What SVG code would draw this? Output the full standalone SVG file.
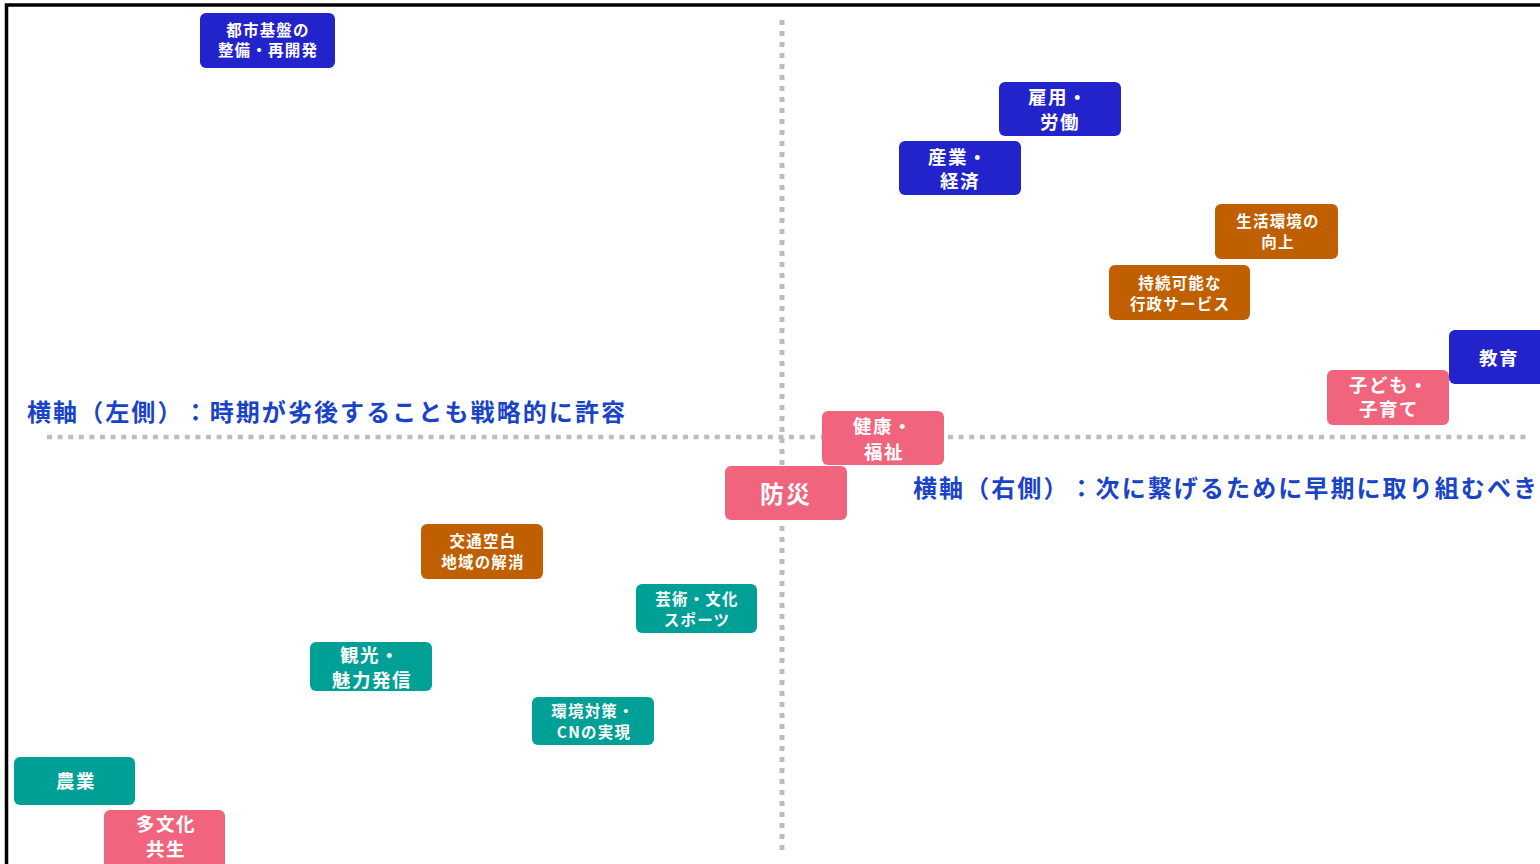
<svg xmlns="http://www.w3.org/2000/svg" width="1540" height="864" viewBox="0 0 1540 864">
<style>
.n rect{rx:6px;ry:6px}
.b rect{fill:#2323CC}
.o rect{fill:#C05F00}
.p rect{fill:#F0657D}
.t rect{fill:#00A096}
.n text{fill:#ffffff;font-family:"Noto Sans CJK JP","Noto Sans",sans-serif;font-weight:700;text-anchor:middle;dominant-baseline:central;text-spacing-trim:space-all}
.s16 text{font-size:15.5px;letter-spacing:1.2px}
.s19 text{font-size:18.5px;letter-spacing:1.5px}
.axis{fill:#1A44C8;font-family:"Noto Sans CJK JP","Noto Sans",sans-serif;font-weight:700;font-size:24px;letter-spacing:2px;text-spacing-trim:space-all}
.dot{stroke:#BDBDBD;fill:none}
</style>
<rect x="0" y="0" width="1540" height="864" fill="#ffffff"/>
<path d="M6.5,864 V5 H1540" fill="none" stroke="#000000" stroke-width="3.5"/>
<g id="connectors">
<line class="dot" x1="782" y1="20" x2="782" y2="854" stroke-width="5" stroke-dasharray="5 6"/>
<line class="dot" x1="47" y1="437" x2="1527" y2="437" stroke-width="4.5" stroke-dasharray="5 5.6"/>
</g>
<g id="labels">
<text class="axis" x="27" y="421" textLength="600" lengthAdjust="spacing">横軸（左側）：時期が劣後することも戦略的に許容</text>
<text class="axis" x="913" y="497" textLength="626" lengthAdjust="spacing">横軸（右側）：次に繋げるために早期に取り組むべき</text>
</g>
<g id="n1" class="n b s16"><rect x="200" y="13" width="135" height="55"/><text x="268" y="29">都市基盤の</text><text x="268" y="49">整備・再開発</text></g>
<g id="n2" class="n b s19"><rect x="999" y="82" width="122" height="54"/><text x="1058" y="96">雇用・</text><text x="1060" y="121">労働</text></g>
<g id="n3" class="n b s19"><rect x="899" y="141" width="122" height="54"/><text x="958" y="156">産業・</text><text x="960" y="180">経済</text></g>
<g id="n4" class="n o s16"><rect x="1215" y="204" width="123" height="55"/><text x="1278" y="220">生活環境の</text><text x="1278" y="241">向上</text></g>
<g id="n5" class="n o s16"><rect x="1109" y="265" width="141" height="55"/><text x="1180" y="282">持続可能な</text><text x="1180" y="303">行政サービス</text></g>
<g id="n6" class="n b s19"><rect x="1449" y="330" width="100" height="54"/><text x="1499" y="357">教育</text></g>
<g id="n7" class="n p s19"><rect x="1327" y="370" width="122" height="55"/><text x="1389" y="384">子ども・</text><text x="1389" y="408">子育て</text></g>
<g id="n8" class="n p s19"><rect x="822" y="411" width="122" height="54"/><text x="883" y="425">健康・</text><text x="884" y="451">福祉</text></g>
<g id="n9" class="n p"><rect x="725" y="466" width="122" height="54"/><text x="786" y="492" style="font-size:24px;letter-spacing:2px">防災</text></g>
<g id="n10" class="n o s16"><rect x="421" y="524" width="122" height="55"/><text x="483" y="540">交通空白</text><text x="483" y="561">地域の解消</text></g>
<g id="n11" class="n t s16"><rect x="636" y="584" width="121" height="49"/><text x="697" y="598">芸術・文化</text><text x="697" y="619">スポーツ</text></g>
<g id="n12" class="n t s19"><rect x="310" y="642" width="122" height="49"/><text x="370" y="654">観光・</text><text x="372" y="679">魅力発信</text></g>
<g id="n13" class="n t s16"><rect x="532" y="697" width="122" height="48"/><text x="593" y="710">環境対策・</text><text x="594" y="731">CNの実現</text></g>
<g id="n14" class="n t s19"><rect x="14" y="757" width="121" height="48"/><text x="76" y="780">農業</text></g>
<g id="n15" class="n p s19"><rect x="104" y="810" width="121" height="60"/><text x="166" y="823">多文化</text><text x="166" y="848">共生</text></g>
</svg>
